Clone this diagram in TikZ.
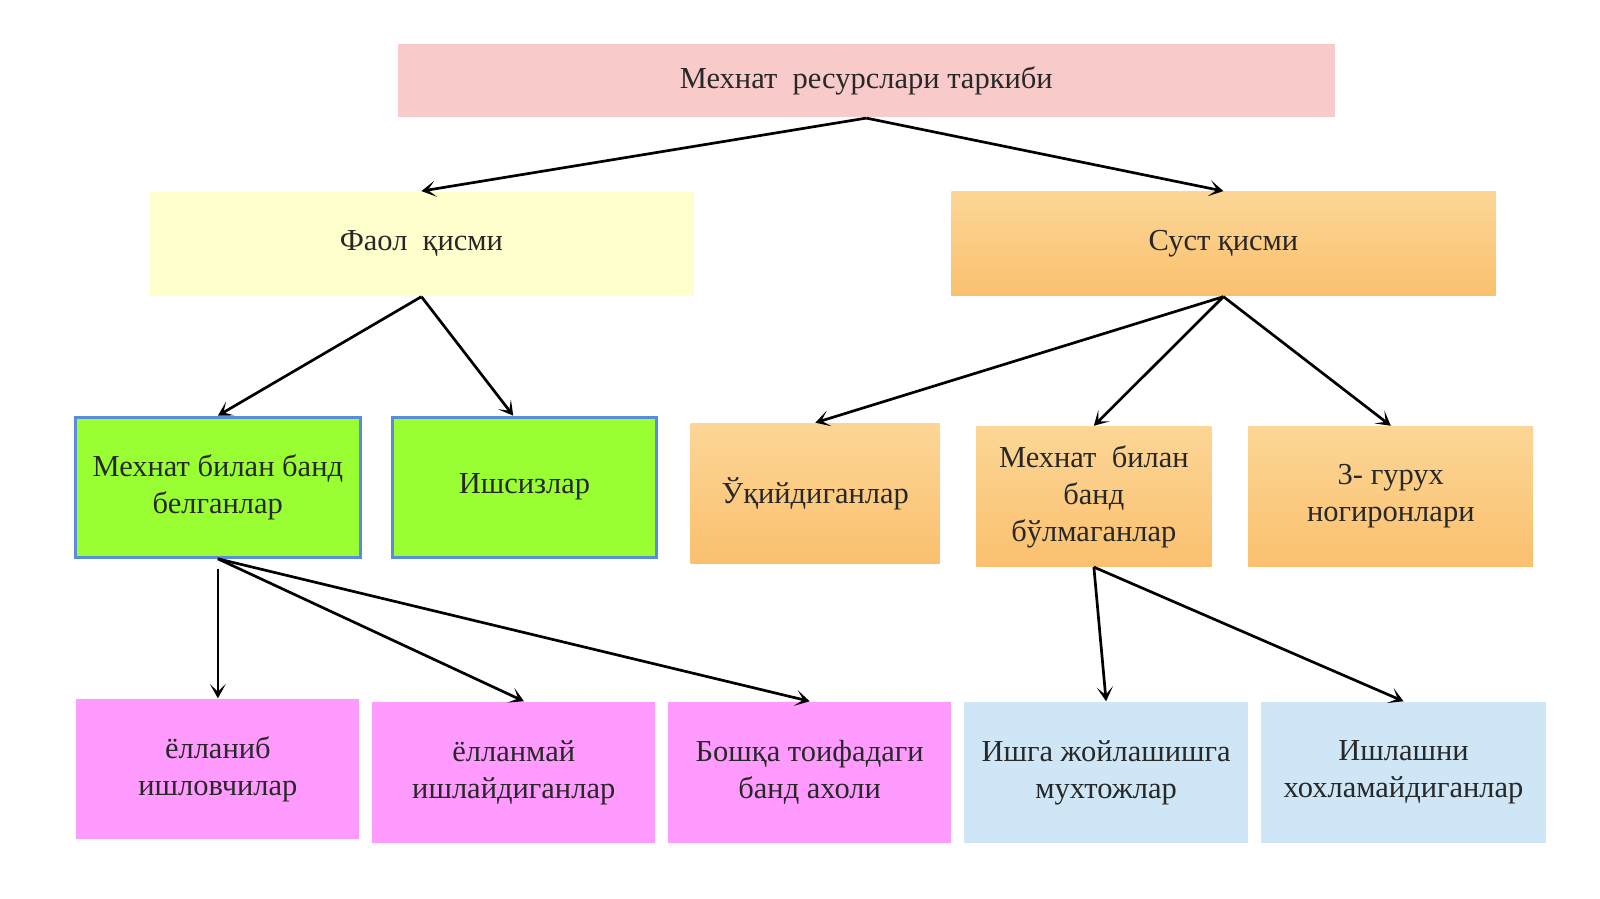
\documentclass[tikz,border=0pt]{standalone}
\usepackage{fontspec}
\setmainfont{Liberation Serif}
\usetikzlibrary{arrows.meta,calc}
\definecolor{toppink}{RGB}{248,202,202}
\definecolor{lyellow}{RGB}{255,255,206}
\definecolor{orange1}{RGB}{252,214,150}
\definecolor{orange2}{RGB}{250,192,110}
\definecolor{lgreen}{RGB}{153,255,51}
\definecolor{bborder}{RGB}{90,140,220}
\definecolor{mag}{RGB}{255,155,255}
\definecolor{lblue}{RGB}{206,230,246}
\definecolor{txt}{RGB}{40,40,40}
\begin{document}
\begin{tikzpicture}[x=0.01cm,y=-0.01cm,
  box/.style={draw=none,inner sep=2pt,align=center,text=txt,font=\fontsize{8.5}{10.3}\selectfont},
  gbox/.style={box,fill=lgreen,draw=bborder,line width=0.9pt},
  obox/.style={box,top color=orange1,bottom color=orange2},
  pbox/.style={box,fill=mag},
  lbbox/.style={box,fill=lblue},
  arr/.style={-{Stealth[length=4pt,width=4.5pt,inset=2.2pt]},line width=0.75pt,black}]
\fill[white] (0,0) rectangle (1568,881);
\node[box,fill=toppink,minimum width=9.18cm,minimum height=0.72cm] (top) at (849,79) {Мехнат\ \ ресурслари таркиби};
\node[box,fill=lyellow,minimum width=5.33cm,minimum height=1.02cm] (faol) at (413,239) {Фаол\ \ қисми};
\node[obox,minimum width=5.33cm,minimum height=1.02cm] (sust) at (1199,239) {Суст қисми};
\node[gbox,minimum width=2.79cm,minimum height=1.37cm] (g1) at (213.5,477.5) {Мехнат билан банд\\белганлар};
\node[gbox,minimum width=2.58cm,minimum height=1.37cm] (g2) at (514,477.5) {Ишсизлар};
\node[obox,minimum width=2.44cm,minimum height=1.37cm] (o1) at (799,483.5) {Ўқийдиганлар};
\node[obox,minimum width=2.30cm,minimum height=1.37cm] (o2) at (1072,486.5) {Мехнат\ \ билан\\банд\\бўлмаганлар};
\node[obox,minimum width=2.79cm,minimum height=1.37cm] (o3) at (1363,486.5) {3- гурух\\ногиронлари};
\node[pbox,minimum width=2.77cm,minimum height=1.37cm] (p1) at (213.5,753.5) {ёлланиб\\ишловчилар};
\node[pbox,minimum width=2.77cm,minimum height=1.38cm] (p2) at (503.5,757) {ёлланмай\\ишлайдиганлар};
\node[pbox,minimum width=2.77cm,minimum height=1.38cm] (p3) at (793.5,757) {Бошқа тоифадаги\\банд ахоли};
\node[lbbox,minimum width=2.78cm,minimum height=1.38cm] (b1) at (1084,757) {Ишга жойлашишга\\мухтожлар};
\node[lbbox,minimum width=2.79cm,minimum height=1.38cm] (b2) at (1375.5,757) {Ишлашни\\хохламайдиганлар};
\draw[arr] (top.south) -- (faol.north);
\draw[arr] (top.south) -- (sust.north);
\draw[arr] (faol.south) -- (g1.north);
\draw[arr] (faol.south) -- ($(g2.north)+(-11,0)$);
\draw[arr] (sust.south) -- (o1.north);
\draw[arr] (sust.south) -- (o2.north);
\draw[arr] (sust.south) -- (o3.north);
\draw[arr] ($(g1.south)+(0,10)$) -- (p1.north);
\draw[arr] (g1.south) -- ($(p2.north)+(10,0)$);
\draw[arr] (g1.south) -- (p3.north);
\draw[arr] (o2.south) -- (b1.north);
\draw[arr] (o2.south) -- (b2.north);
\pgfresetboundingbox
\useasboundingbox (0,0) rectangle (1568,881);
\end{tikzpicture}
\end{document}
